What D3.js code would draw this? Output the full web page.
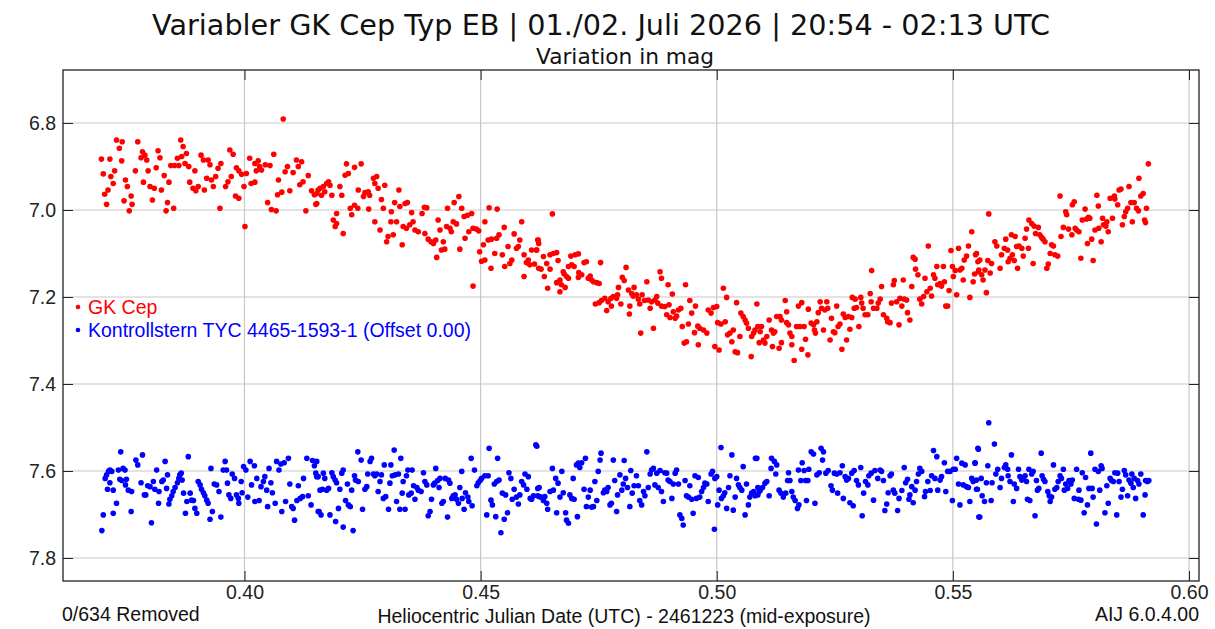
<!DOCTYPE html>
<html>
<head>
<meta charset="utf-8">
<script src="https://cdn.jsdelivr.net/npm/d3@7"></script>
<style>
  body { margin: 0; background: #fff; }
  svg { display: block; }
</style>
</head>
<body>
<script>
// Tick values as printed on the axes
const xTicks = [0.40, 0.45, 0.50, 0.55, 0.60];
const yTicks = [6.8, 7.0, 7.2, 7.4, 7.6, 7.8];

const titleText = 'Variabler GK Cep Typ EB | 01./02. Juli 2026 | 20:54 - 02:13 UTC';
const subtitleText = 'Variation in mag';
const xLabel = 'Heliocentric Julian Date (UTC) - 2461223 (mid-exposure)';
const removedText = '0/634 Removed';
const versionText = 'AIJ 6.0.4.00';
const seriesNames = ['GK Cep', 'Kontrollstern TYC 4465-1593-1 (Offset 0.00)'];

// GK Cep: [HJD - 2461223, mag]
const gkCep = [
[0.3697,6.883],[0.3715,6.883],[0.3701,6.917],[0.3717,6.923],[0.3722,6.939],[0.3711,6.954],[0.3704,6.964],[0.3708,6.987],
[0.3729,6.839],[0.3741,6.843],[0.3735,6.858],[0.3740,6.887],[0.3725,6.910],[0.3748,6.931],[0.3752,6.946],[0.3745,6.979],
[0.3760,6.968],[0.3762,6.987],[0.3756,7.002],[0.3774,6.843],[0.3784,6.866],[0.3789,6.874],[0.3781,6.880],[0.3793,6.885],
[0.3769,6.910],[0.3786,6.936],[0.3796,6.910],[0.3800,6.946],[0.3809,6.950],[0.3805,6.977],[0.3817,6.864],[0.3821,6.880],
[0.3813,6.903],[0.3824,6.954],[0.3830,6.921],[0.3840,6.936],[0.3837,6.983],[0.3834,7.002],[0.3850,6.996],[0.3865,6.839],
[0.3870,6.854],[0.3877,6.870],[0.3867,6.877],[0.3858,6.881],[0.3852,6.898],[0.3844,6.898],[0.3861,6.898],[0.3874,6.893],
[0.3882,6.900],[0.3895,6.910],[0.3884,6.936],[0.3891,6.950],[0.3897,6.956],[0.3902,6.946],[0.3915,6.954],[0.3908,6.874],
[0.3913,6.885],[0.3923,6.885],[0.3927,6.896],[0.3920,6.927],[0.3934,6.946],[0.3930,6.931],[0.3939,6.923],[0.3944,6.904],
[0.3950,6.893],[0.3948,6.996],[0.3960,6.946],[0.3965,6.935],[0.3972,6.923],[0.3969,6.862],[0.3976,6.872],[0.3983,6.903],
[0.3988,6.910],[0.3994,6.918],[0.4004,6.916],[0.3999,6.946],[0.3981,6.968],[0.3988,6.973],[0.4001,7.038],[0.4011,6.881],
[0.4022,6.893],[0.4029,6.887],[0.4032,6.900],[0.4025,6.910],[0.4036,6.908],[0.4044,6.896],[0.4054,6.898],[0.4062,6.872],
[0.4014,6.939],[0.4022,6.936],[0.4049,6.983],[0.4057,6.999],[0.4067,7.002],[0.4072,6.931],[0.4079,6.959],[0.4070,6.965],
[0.4086,6.912],[0.4091,6.900],[0.4096,6.956],[0.4103,6.914],[0.4110,6.885],[0.4114,6.900],[0.4121,6.889],[0.4124,6.935],
[0.4117,6.942],[0.4135,6.921],[0.4130,7.002],[0.4142,6.956],[0.4148,6.965],[0.4151,6.987],[0.4082,6.791],
[0.4153,6.962],[0.4156,6.954],[0.4160,6.950],[0.4167,6.946],[0.4174,6.939],[0.4178,6.935],[0.4181,6.943],[0.4170,6.958],
[0.4163,6.966],[0.4153,6.985],[0.4185,6.966],[0.4202,6.946],[0.4206,6.966],[0.4216,6.894],[0.4233,6.902],[0.4247,6.894],
[0.4213,6.920],[0.4220,6.916],[0.4188,7.023],[0.4195,7.031],[0.4192,7.038],[0.4195,7.008],[0.4209,7.054],[0.4224,6.996],
[0.4227,7.011],[0.4233,6.989],[0.4240,6.996],[0.4241,6.954],[0.4252,6.969],[0.4255,6.960],[0.4262,6.958],[0.4265,6.966],
[0.4273,6.927],[0.4280,6.923],[0.4276,6.939],[0.4283,6.950],[0.4297,6.943],[0.4263,6.998],[0.4276,7.027],[0.4287,7.046],
[0.4290,6.976],[0.4294,6.996],[0.4301,7.073],[0.4304,7.061],[0.4315,7.057],[0.4310,7.027],[0.4311,7.004],[0.4318,6.983],
[0.4327,6.954],[0.4322,7.027],[0.4329,6.992],[0.4334,7.080],[0.4340,6.985],[0.4345,6.983],[0.4336,7.038],[0.4343,7.042],
[0.4350,7.034],[0.4354,7.006],[0.4357,7.027],[0.4361,7.046],[0.4368,7.050],[0.4376,7.008],[0.4381,6.994],[0.4386,6.995],
[0.4382,7.054],[0.4389,7.067],[0.4395,7.073],[0.4400,7.077],[0.4405,7.069],[0.4407,7.109],[0.4410,7.023],[0.4414,7.046],
[0.4417,7.092],[0.4421,7.073],[0.4424,7.090],[0.4430,6.996],[0.4428,7.038],[0.4435,7.042],[0.4438,7.050],[0.4444,6.983],
[0.4442,7.027],[0.4449,7.032],[0.4454,6.969],[0.4460,6.996],[0.4456,7.090],[0.4467,7.065],[0.4465,7.015],[0.4472,7.012],
[0.4475,7.050],[0.4481,7.008],[0.4484,7.042],[0.4491,7.044],[0.4496,7.048],[0.4484,7.175],[0.4498,7.096],[0.4502,7.118],
[0.4506,7.080],[0.4509,7.115],[0.4509,7.027],[0.4518,6.995],[0.4522,7.134],[0.4516,7.069],[0.4523,7.067],[0.4530,7.100],
[0.4534,7.065],[0.4535,6.998],[0.4539,7.057],[0.4546,7.103],[0.4550,7.040],[0.4551,7.130],[0.4558,7.084],[0.4562,7.123],
[0.4566,7.115],[0.4571,7.055],[0.4576,7.088],[0.4580,7.084],[0.4583,7.069],[0.4587,7.027],[0.4592,7.153],[0.4592,7.103],
[0.4597,7.121],[0.4601,7.115],[0.4604,7.126],[0.4608,7.092],[0.4614,7.124],[0.4618,7.092],[0.4622,7.069],[0.4623,7.134],
[0.4652,7.009],[0.4621,7.069],[0.4623,7.077],[0.4619,7.092],[0.4633,7.107],[0.4647,7.103],[0.4654,7.100],[0.4661,7.098],
[0.4664,7.116],[0.4640,7.123],[0.4628,7.136],[0.4647,7.136],[0.4635,7.153],[0.4642,7.180],[0.4661,7.167],[0.4668,7.161],
[0.4671,7.172],[0.4668,7.188],[0.4679,7.178],[0.4677,7.147],[0.4682,7.153],[0.4686,7.157],[0.4675,7.142],[0.4686,7.130],
[0.4693,7.126],[0.4691,7.106],[0.4700,7.103],[0.4707,7.101],[0.4698,7.130],[0.4708,7.144],[0.4707,7.155],[0.4714,7.149],
[0.4719,7.121],[0.4724,7.119],[0.4728,7.157],[0.4732,7.152],[0.4735,7.161],[0.4739,7.165],[0.4746,7.167],[0.4751,7.169],
[0.4754,7.121],[0.4743,7.216],[0.4751,7.213],[0.4756,7.208],[0.4763,7.203],[0.4767,7.231],[0.4770,7.211],[0.4776,7.203],
[0.4781,7.199],[0.4777,7.221],[0.4788,7.203],[0.4790,7.195],[0.4792,7.178],[0.4797,7.216],[0.4800,7.155],[0.4804,7.162],
[0.4808,7.132],[0.4813,7.184],[0.4815,7.239],[0.4816,7.221],[0.4820,7.192],[0.4823,7.198],[0.4825,7.178],[0.4830,7.195],
[0.4834,7.205],[0.4837,7.216],[0.4839,7.283],[0.4842,7.195],[0.4847,7.208],[0.4852,7.165],[0.4855,7.207],[0.4859,7.226],
[0.4862,7.211],[0.4866,7.272],[0.4869,7.207],[0.4873,7.199],[0.4875,7.214],[0.4880,7.142],[0.4883,7.157],[0.4883,7.221],
[0.4890,7.222],[0.4894,7.241],[0.4897,7.172],[0.4899,7.218],[0.4901,7.247],[0.4906,7.193],[0.4908,7.234],[0.4912,7.249],
[0.4915,7.244],[0.4919,7.230],[0.4924,7.226],[0.4927,7.268],[0.4931,7.306],[0.4934,7.172],[0.4936,7.303],[0.4940,7.262],
[0.4943,7.208],[0.4947,7.237],[0.4953,7.282],[0.4955,7.221],[0.4960,7.267],[0.4961,7.310],[0.4964,7.272],[0.4972,7.276],
[0.4979,7.283],[0.4982,7.230],[0.4988,7.237],[0.4993,7.224],[0.4996,7.314],[0.5000,7.222],[0.5002,7.259],[0.5005,7.322],
[0.5009,7.262],[0.5014,7.180],[0.5018,7.257],[0.5021,7.201],[0.5023,7.287],[0.5028,7.283],[0.5032,7.303],[0.5035,7.276],
[0.5039,7.326],[0.5042,7.213],[0.5044,7.328],[0.5049,7.291],[0.5051,7.237],[0.5056,7.245],[0.5060,7.253],[0.5063,7.260],
[0.5067,7.272],[0.5073,7.337],[0.5074,7.291],[0.5078,7.283],[0.5081,7.276],[0.5085,7.216],[0.5087,7.268],[0.5090,7.305],
[0.5095,7.268],[0.5092,7.280],[0.5099,7.299],[0.5106,7.291],[0.5102,7.306],[0.5111,7.253],[0.5116,7.276],[0.5120,7.283],
[0.5118,7.314],[0.5123,7.280],[0.5127,7.245],[0.5132,7.318],[0.5134,7.245],[0.5137,7.253],[0.5137,7.305],[0.5145,7.208],
[0.5148,7.234],[0.5148,7.259],[0.5152,7.264],[0.5155,7.283],[0.5159,7.291],[0.5159,7.310],[0.5164,7.346],[0.5169,7.268],
[0.5173,7.221],[0.5176,7.268],[0.5180,7.213],[0.5180,7.320],[0.5185,7.268],[0.5188,7.297],[0.5193,7.333],[0.5194,7.228],
[0.5200,7.260],[0.5205,7.264],[0.5207,7.276],[0.5209,7.283],[0.5212,7.257],[0.5215,7.236],[0.5219,7.211],[0.5222,7.226],
[0.5226,7.276],[0.5229,7.230],[0.5233,7.211],[0.5235,7.226],[0.5240,7.299],[0.5243,7.249],[0.5247,7.280],[0.5250,7.282],
[0.5254,7.221],[0.5257,7.268],[0.5261,7.262],[0.5265,7.320],[0.5268,7.239],[0.5272,7.247],[0.5275,7.299],[0.5279,7.245],
[0.5282,7.274],[0.5286,7.247],[0.5287,7.201],[0.5291,7.226],[0.5293,7.205],[0.5296,7.224],[0.5301,7.268],[0.5305,7.201],
[0.5307,7.214],[0.5310,7.226],[0.5314,7.241],[0.5320,7.241],[0.5325,7.192],[0.5327,7.211],[0.5328,7.139],[0.5332,7.226],
[0.5339,7.226],[0.5342,7.214],[0.5346,7.205],[0.5349,7.176],[0.5353,7.241],[0.5360,7.249],[0.5362,7.257],[0.5367,7.259],
[0.5370,7.214],[0.5374,7.172],[0.5376,7.162],[0.5381,7.211],[0.5386,7.264],[0.5388,7.203],[0.5392,7.221],[0.5395,7.161],
[0.5397,7.205],[0.5402,7.207],[0.5404,7.236],[0.5409,7.253],[0.5413,7.176],[0.5416,7.109],[0.5420,7.113],[0.5421,7.136],
[0.5426,7.149],[0.5430,7.205],[0.5434,7.216],[0.5438,7.199],[0.5441,7.157],[0.5445,7.188],[0.5448,7.083],[0.5452,7.180],
[0.5455,7.198],[0.5459,7.149],[0.5462,7.157],[0.5466,7.130],[0.5468,7.172],[0.5473,7.169],[0.5476,7.175],[0.5480,7.130],
[0.5482,7.165],[0.5485,7.221],[0.5489,7.221],[0.5492,7.185],[0.5496,7.093],[0.5499,7.130],[0.5501,7.153],[0.5505,7.139],
[0.5508,7.195],[0.5512,7.088],[0.5515,7.138],[0.5519,7.134],[0.5522,7.161],[0.5524,7.115],[0.5529,7.106],[0.5533,7.083],
[0.5536,7.201],[0.5540,7.050],[0.5543,7.165],[0.5546,7.147],[0.5548,7.103],[0.5553,7.119],[0.5555,7.138],
[0.5550,7.100],[0.5557,7.115],[0.5554,7.142],[0.5561,7.149],[0.5564,7.161],[0.5568,7.138],[0.5571,7.190],[0.5574,7.116],
[0.5579,7.145],[0.5582,7.123],[0.5576,7.009],[0.5589,7.073],[0.5593,7.083],[0.5600,7.134],[0.5603,7.103],[0.5609,7.088],
[0.5612,7.067],[0.5616,7.092],[0.5617,7.119],[0.5621,7.111],[0.5624,7.057],[0.5626,7.103],[0.5630,7.116],[0.5632,7.061],
[0.5635,7.084],[0.5637,7.134],[0.5640,7.083],[0.5646,7.088],[0.5649,7.106],[0.5653,7.065],[0.5656,7.044],[0.5660,7.088],
[0.5661,7.023],[0.5667,7.031],[0.5670,7.123],[0.5672,7.037],[0.5675,7.054],[0.5681,7.040],[0.5684,7.057],[0.5688,7.063],
[0.5691,7.067],[0.5695,7.073],[0.5699,7.134],[0.5702,7.124],[0.5706,7.100],[0.5709,7.080],[0.5713,7.083],[0.5716,7.103],
[0.5722,7.106],[0.5727,6.968],[0.5729,7.061],[0.5734,7.040],[0.5739,7.004],[0.5741,7.011],[0.5745,7.044],[0.5752,7.057],
[0.5753,6.988],[0.5757,6.981],[0.5759,7.042],[0.5762,7.046],[0.5767,7.050],[0.5771,7.111],[0.5774,7.023],[0.5780,6.998],
[0.5783,7.021],[0.5787,7.017],[0.5790,7.019],[0.5785,7.077],[0.5794,7.067],[0.5797,7.116],[0.5801,7.046],[0.5805,6.966],
[0.5808,6.991],[0.5809,7.042],[0.5814,7.073],[0.5817,7.019],[0.5819,7.034],[0.5824,7.037],[0.5826,7.027],[0.5829,7.050],
[0.5833,6.973],[0.5838,7.019],[0.5842,6.968],[0.5843,6.975],[0.5849,6.988],[0.5852,6.954],[0.5856,6.952],[0.5859,7.034],
[0.5863,7.015],[0.5866,7.004],[0.5870,6.996],[0.5873,6.946],[0.5877,6.983],[0.5880,7.027],[0.5884,6.983],[0.5889,6.996],
[0.5893,7.002],[0.5894,6.927],[0.5898,6.968],[0.5903,6.962],[0.5906,7.023],[0.5908,7.029],[0.5910,6.996],[0.5914,6.894]
];

// Kontrollstern TYC 4465-1593-1: [HJD - 2461223, mag]
const checkStar = [
[0.3698,7.737],[0.3701,7.701],[0.3705,7.617],[0.3708,7.609],[0.3712,7.601],[0.3715,7.598],[0.3719,7.601],[0.3710,7.642],
[0.3715,7.627],[0.3722,7.644],[0.3722,7.697],[0.3729,7.674],[0.3733,7.598],[0.3738,7.556],[0.3743,7.594],[0.3747,7.598],
[0.3736,7.619],[0.3740,7.622],[0.3750,7.619],[0.3748,7.632],[0.3754,7.644],[0.3760,7.693],[0.3761,7.647],[0.3770,7.575],
[0.3774,7.586],[0.3784,7.563],[0.3781,7.627],[0.3788,7.655],[0.3791,7.655],[0.3795,7.634],[0.3800,7.636],[0.3807,7.624],
[0.3803,7.719],[0.3810,7.642],[0.3814,7.598],[0.3818,7.674],[0.3819,7.647],[0.3825,7.624],[0.3828,7.621],[0.3832,7.578],
[0.3835,7.640],[0.3837,7.609],[0.3840,7.676],[0.3842,7.665],[0.3846,7.657],[0.3849,7.647],[0.3853,7.638],[0.3858,7.627],
[0.3861,7.617],[0.3863,7.609],[0.3866,7.605],[0.3868,7.621],[0.3871,7.651],[0.3875,7.697],[0.3878,7.670],[0.3881,7.567],
[0.3885,7.651],[0.3888,7.667],[0.3892,7.668],[0.3895,7.686],[0.3899,7.697],[0.3902,7.624],[0.3906,7.632],[0.3909,7.642],
[0.3913,7.650],[0.3916,7.657],[0.3920,7.667],[0.3923,7.674],[0.3927,7.711],[0.3929,7.594],[0.3932,7.693],[0.3936,7.630],
[0.3941,7.632],[0.3946,7.647],[0.3950,7.706],[0.3955,7.598],[0.3959,7.578],[0.3962,7.598],[0.3964,7.628],[0.3967,7.655],
[0.3971,7.663],[0.3974,7.607],[0.3979,7.617],[0.3983,7.655],[0.3987,7.663],[0.3988,7.674],[0.3993,7.624],[0.3995,7.650],
[0.3998,7.590],[0.4003,7.598],[0.4007,7.660],[0.4012,7.578],[0.4015,7.632],[0.4021,7.588],[0.4022,7.670],[0.4026,7.617],
[0.4031,7.668],[0.4035,7.636],[0.4040,7.624],[0.4043,7.613],[0.4047,7.644],[0.4049,7.682],[0.4052,7.594],[0.4056,7.627],
[0.4059,7.650],[0.4065,7.674],[0.4068,7.578],[0.4073,7.598],[0.4077,7.584],[0.4079,7.693],[0.4084,7.581],[0.4087,7.670],
[0.4093,7.571],[0.4096,7.630],[0.4100,7.682],[0.4103,7.686],[0.4106,7.713],[0.4111,7.668],[0.4114,7.634],[0.4118,7.663],
[0.4123,7.659],[0.4125,7.617],[0.4132,7.571],[0.4135,7.657],[0.4141,7.678],[0.4144,7.576],[0.4148,7.588],[0.4151,7.605],
[0.4153,7.613],[0.4156,7.693],[0.4160,7.644],
[0.4153,7.578],[0.4156,7.613],[0.4158,7.693],[0.4162,7.701],[0.4167,7.605],[0.4170,7.617],[0.4165,7.642],[0.4174,7.644],
[0.4178,7.640],[0.4181,7.701],[0.4185,7.604],[0.4188,7.613],[0.4192,7.621],[0.4193,7.716],[0.4195,7.627],[0.4199,7.686],
[0.4202,7.642],[0.4206,7.605],[0.4209,7.598],[0.4209,7.729],[0.4214,7.668],[0.4218,7.630],[0.4220,7.678],[0.4224,7.682],
[0.4227,7.644],[0.4230,7.737],[0.4233,7.611],[0.4235,7.621],[0.4240,7.556],[0.4241,7.624],[0.4247,7.575],[0.4250,7.688],
[0.4255,7.642],[0.4259,7.636],[0.4261,7.607],[0.4266,7.578],[0.4269,7.571],[0.4273,7.607],[0.4276,7.611],[0.4280,7.607],
[0.4283,7.647],[0.4287,7.624],[0.4290,7.609],[0.4294,7.663],[0.4296,7.586],[0.4299,7.659],[0.4305,7.688],[0.4308,7.628],
[0.4310,7.586],[0.4313,7.611],[0.4317,7.552],[0.4319,7.609],[0.4322,7.670],[0.4326,7.607],[0.4329,7.688],[0.4331,7.571],
[0.4334,7.651],[0.4336,7.624],[0.4340,7.688],[0.4343,7.611],[0.4346,7.598],[0.4348,7.655],[0.4353,7.651],[0.4355,7.598],
[0.4358,7.634],[0.4361,7.665],[0.4365,7.638],[0.4368,7.644],[0.4374,7.647],[0.4379,7.604],[0.4382,7.624],[0.4386,7.632],
[0.4389,7.703],[0.4393,7.693],[0.4396,7.665],[0.4400,7.632],[0.4403,7.628],[0.4405,7.594],[0.4409,7.622],[0.4412,7.638],
[0.4414,7.617],[0.4418,7.674],[0.4421,7.670],[0.4425,7.617],[0.4430,7.706],[0.4432,7.621],[0.4435,7.628],[0.4439,7.663],
[0.4442,7.657],[0.4446,7.655],[0.4449,7.665],[0.4453,7.674],[0.4456,7.638],[0.4460,7.601],[0.4461,7.663],[0.4465,7.688],
[0.4468,7.650],[0.4473,7.660],[0.4475,7.670],[0.4480,7.571],[0.4482,7.680],[0.4487,7.598],[0.4492,7.634],[0.4495,7.627],
[0.4499,7.622],[0.4502,7.617],[0.4509,7.611],[0.4513,7.701],[0.4516,7.611],[0.4518,7.548],[0.4522,7.667],[0.4525,7.678],
[0.4529,7.630],[0.4532,7.705],[0.4534,7.624],[0.4536,7.571],[0.4539,7.621],[0.4543,7.742],[0.4546,7.651],[0.4550,7.711],
[0.4553,7.655],[0.4557,7.696],[0.4560,7.604],[0.4564,7.617],[0.4567,7.665],[0.4571,7.642],[0.4576,7.660],[0.4580,7.676],
[0.4583,7.655],[0.4587,7.624],[0.4591,7.632],[0.4594,7.607],[0.4598,7.642],[0.4601,7.613],[0.4605,7.663],[0.4608,7.665],
[0.4612,7.657],[0.4617,7.540],[0.4621,7.640],[0.4624,7.659],
[0.4619,7.543],[0.4624,7.638],[0.4621,7.657],[0.4628,7.660],[0.4633,7.668],[0.4636,7.659],[0.4640,7.674],[0.4642,7.688],
[0.4647,7.647],[0.4652,7.594],[0.4654,7.644],[0.4659,7.617],[0.4661,7.696],[0.4664,7.628],[0.4668,7.660],[0.4672,7.601],
[0.4675,7.650],[0.4680,7.696],[0.4682,7.713],[0.4686,7.720],[0.4689,7.655],[0.4693,7.663],[0.4696,7.617],[0.4698,7.665],
[0.4703,7.586],[0.4705,7.705],[0.4707,7.582],[0.4710,7.592],[0.4714,7.581],[0.4719,7.642],[0.4722,7.571],[0.4724,7.682],
[0.4728,7.660],[0.4732,7.644],[0.4735,7.683],[0.4739,7.682],[0.4742,7.624],[0.4746,7.668],[0.4749,7.601],[0.4753,7.575],
[0.4755,7.559],[0.4760,7.650],[0.4763,7.644],[0.4767,7.647],[0.4770,7.638],[0.4774,7.678],[0.4777,7.674],[0.4781,7.575],
[0.4784,7.622],[0.4788,7.693],[0.4790,7.655],[0.4795,7.609],[0.4799,7.644],[0.4802,7.630],[0.4804,7.576],[0.4807,7.617],
[0.4811,7.638],[0.4816,7.682],[0.4818,7.599],[0.4821,7.651],[0.4825,7.634],[0.4830,7.611],[0.4834,7.634],[0.4837,7.668],
[0.4841,7.678],[0.4845,7.647],[0.4848,7.657],[0.4852,7.556],[0.4855,7.638],[0.4859,7.607],[0.4862,7.598],[0.4866,7.594],
[0.4869,7.632],[0.4873,7.605],[0.4876,7.638],[0.4880,7.599],[0.4883,7.647],[0.4887,7.670],[0.4890,7.604],[0.4894,7.605],
[0.4897,7.621],[0.4901,7.624],[0.4905,7.663],[0.4908,7.630],[0.4912,7.605],[0.4915,7.598],[0.4919,7.630],[0.4922,7.701],
[0.4926,7.709],[0.4929,7.724],[0.4933,7.622],[0.4936,7.657],[0.4940,7.660],[0.4943,7.634],[0.4947,7.665],[0.4950,7.697],
[0.4954,7.611],[0.4957,7.663],[0.4961,7.615],[0.4964,7.660],[0.4968,7.647],[0.4972,7.638],[0.4975,7.628],[0.4979,7.630],
[0.4982,7.670],[0.4988,7.607],[0.4991,7.601],[0.4995,7.734],[0.4996,7.617],[0.5000,7.613],[0.5002,7.678],[0.5005,7.644],
[0.5009,7.546],[0.5010,7.663],[0.5014,7.657],[0.5017,7.650],[0.5021,7.686],[0.5025,7.638],[0.5028,7.611],[0.5032,7.563],
[0.5035,7.690],[0.5039,7.660],[0.5042,7.617],[0.5046,7.632],[0.5049,7.638],[0.5053,7.644],[0.5056,7.590],[0.5060,7.701],
[0.5063,7.630],[0.5067,7.678],[0.5070,7.660],[0.5074,7.651],[0.5078,7.647],[0.5081,7.657],[0.5082,7.571],[0.5087,7.638],
[0.5090,7.647],
[0.5085,7.571],[0.5087,7.655],[0.5092,7.645],[0.5097,7.638],[0.5102,7.628],[0.5106,7.624],[0.5111,7.657],[0.5115,7.594],
[0.5116,7.571],[0.5122,7.578],[0.5127,7.586],[0.5125,7.607],[0.5132,7.644],[0.5136,7.651],[0.5141,7.660],[0.5146,7.651],
[0.5152,7.604],[0.5150,7.622],[0.5155,7.622],[0.5159,7.647],[0.5162,7.660],[0.5166,7.668],[0.5171,7.686],[0.5174,7.678],
[0.5173,7.598],[0.5178,7.622],[0.5181,7.581],[0.5185,7.599],[0.5188,7.622],[0.5193,7.622],[0.5190,7.668],[0.5195,7.596],
[0.5200,7.556],[0.5205,7.561],[0.5208,7.674],[0.5212,7.609],[0.5217,7.604],[0.5221,7.548],[0.5224,7.575],[0.5226,7.556],
[0.5231,7.605],[0.5236,7.599],[0.5242,7.634],[0.5245,7.644],[0.5249,7.605],[0.5254,7.607],[0.5256,7.651],[0.5261,7.604],
[0.5266,7.588],[0.5268,7.663],[0.5272,7.613],[0.5275,7.621],[0.5279,7.617],[0.5282,7.673],[0.5286,7.605],[0.5289,7.680],
[0.5291,7.599],[0.5296,7.622],[0.5300,7.632],[0.5305,7.592],[0.5308,7.703],[0.5311,7.651],[0.5315,7.624],[0.5320,7.632],
[0.5322,7.611],[0.5327,7.605],[0.5332,7.667],[0.5335,7.599],[0.5341,7.617],[0.5346,7.598],[0.5349,7.601],[0.5353,7.622],
[0.5356,7.691],[0.5360,7.676],[0.5363,7.650],[0.5367,7.611],[0.5370,7.607],[0.5374,7.644],[0.5377,7.651],[0.5383,7.691],
[0.5386,7.663],[0.5392,7.645],[0.5397,7.592],[0.5400,7.627],[0.5404,7.619],[0.5407,7.665],[0.5409,7.655],[0.5413,7.636],
[0.5416,7.673],[0.5420,7.644],[0.5423,7.624],[0.5427,7.607],[0.5430,7.594],[0.5434,7.601],[0.5440,7.659],[0.5442,7.647],
[0.5447,7.624],[0.5452,7.645],[0.5455,7.611],[0.5459,7.553],[0.5462,7.617],[0.5466,7.567],[0.5468,7.644],[0.5473,7.621],
[0.5476,7.613],[0.5482,7.581],[0.5485,7.647],[0.5489,7.601],[0.5494,7.601],[0.5499,7.668],[0.5501,7.596],[0.5505,7.596],
[0.5508,7.571],[0.5512,7.630],[0.5515,7.678],[0.5519,7.582],[0.5522,7.632],[0.5526,7.586],[0.5529,7.636],[0.5533,7.638],
[0.5536,7.670],[0.5540,7.617],[0.5543,7.624],[0.5547,7.581],[0.5550,7.642],[0.5553,7.548],[0.5555,7.706],
[0.5547,7.582],[0.5554,7.550],[0.5550,7.621],[0.5552,7.642],[0.5557,7.706],[0.5560,7.617],[0.5562,7.657],[0.5567,7.670],
[0.5571,7.627],[0.5574,7.588],[0.5576,7.489],[0.5581,7.668],[0.5583,7.627],[0.5588,7.538],[0.5591,7.607],[0.5595,7.596],
[0.5600,7.638],[0.5603,7.617],[0.5609,7.592],[0.5612,7.586],[0.5616,7.596],[0.5617,7.611],[0.5621,7.624],[0.5624,7.563],
[0.5628,7.670],[0.5630,7.630],[0.5635,7.640],[0.5639,7.596],[0.5642,7.613],[0.5646,7.621],[0.5649,7.617],[0.5653,7.611],
[0.5656,7.624],[0.5658,7.665],[0.5661,7.596],[0.5663,7.668],[0.5667,7.607],[0.5670,7.601],[0.5674,7.703],[0.5677,7.622],
[0.5679,7.644],[0.5682,7.640],[0.5687,7.559],[0.5689,7.611],[0.5692,7.619],[0.5695,7.624],[0.5701,7.647],[0.5704,7.657],
[0.5706,7.670],[0.5709,7.660],[0.5713,7.586],[0.5716,7.642],[0.5720,7.638],[0.5723,7.624],[0.5727,7.611],[0.5730,7.617],
[0.5734,7.596],[0.5736,7.644],[0.5739,7.630],[0.5743,7.640],[0.5746,7.622],[0.5750,7.630],[0.5753,7.621],[0.5757,7.663],
[0.5762,7.596],[0.5766,7.665],[0.5767,7.644],[0.5771,7.667],[0.5774,7.604],[0.5778,7.696],[0.5781,7.615],[0.5785,7.678],
[0.5788,7.640],[0.5792,7.559],[0.5795,7.640],[0.5797,7.660],[0.5801,7.596],[0.5804,7.722],[0.5808,7.601],[0.5811,7.644],
[0.5814,7.588],[0.5816,7.594],[0.5822,7.696],[0.5826,7.634],[0.5829,7.674],[0.5833,7.617],[0.5836,7.622],[0.5840,7.624],
[0.5843,7.604],[0.5847,7.701],[0.5849,7.605],[0.5852,7.624],[0.5856,7.660],[0.5859,7.642],[0.5863,7.599],[0.5866,7.609],
[0.5870,7.657],[0.5873,7.621],[0.5877,7.628],[0.5879,7.607],[0.5882,7.638],[0.5884,7.617],[0.5887,7.663],[0.5891,7.622],
[0.5894,7.630],[0.5898,7.607],[0.5903,7.701],[0.5907,7.655],[0.5908,7.622],[0.5912,7.624],[0.5915,7.622]
];

const width = 1215, height = 629;
const plot = { left: 63, right: 1199, top: 70, bottom: 581 };
const tickFont = '"Liberation Sans", Arial, sans-serif';
const titleFont = '"DejaVu Sans", sans-serif';
const labelSize = '19.5px';

const svg = d3.select('body').append('svg')
    .attr('width', width)
    .attr('height', height);

const x = d3.scaleLinear()
    .domain([0.36157, 0.60212])
    .range([plot.left, plot.right]);

const y = d3.scaleLinear()
    .domain([6.6782, 7.8529])
    .range([plot.top, plot.bottom]);

// grid
svg.append('g').selectAll('line')
    .data(xTicks)
    .enter().append('line')
    .attr('x1', d => x(d)).attr('x2', d => x(d))
    .attr('y1', plot.top).attr('y2', plot.bottom)
    .attr('stroke', '#c8c8c8').attr('stroke-width', 1.2);

svg.append('g').selectAll('line')
    .data(yTicks)
    .enter().append('line')
    .attr('x1', plot.left).attr('x2', plot.right)
    .attr('y1', d => y(d)).attr('y2', d => y(d))
    .attr('stroke', '#c8c8c8').attr('stroke-width', 1.2);

// axes, ticks pointing inward
const styleAxis = g => {
    g.select('.domain').remove();
    g.selectAll('.tick line').attr('stroke', '#222');
    g.selectAll('.tick text')
        .attr('fill', '#222')
        .style('font-family', tickFont)
        .style('font-size', labelSize);
};

svg.append('g')
    .attr('transform', `translate(0,${plot.bottom})`)
    .call(d3.axisBottom(x).tickValues(xTicks).tickFormat(d3.format('.2f'))
        .tickSizeInner(-10).tickSizeOuter(0).tickPadding(4))
    .call(styleAxis);

svg.append('g')
    .attr('transform', `translate(${plot.left},0)`)
    .call(d3.axisLeft(y).tickValues(yTicks).tickFormat(d3.format('.1f'))
        .tickSizeInner(-10).tickSizeOuter(0).tickPadding(7))
    .call(styleAxis);

svg.append('g')
    .attr('transform', `translate(0,${plot.top})`)
    .call(d3.axisTop(x).tickValues(xTicks).tickFormat('')
        .tickSizeInner(-10).tickSizeOuter(0))
    .call(styleAxis);

svg.append('g')
    .attr('transform', `translate(${plot.right},0)`)
    .call(d3.axisRight(y).tickValues(yTicks).tickFormat('')
        .tickSizeInner(-10).tickSizeOuter(0))
    .call(styleAxis);

// frame
svg.append('rect')
    .attr('x', plot.left).attr('y', plot.top)
    .attr('width', plot.right - plot.left)
    .attr('height', plot.bottom - plot.top)
    .attr('fill', 'none')
    .attr('stroke', '#222')
    .attr('stroke-width', 1.3);

// data points
const series = [
    { name: seriesNames[0], values: gkCep, color: '#ff0000' },
    { name: seriesNames[1], values: checkStar, color: '#0000ff' }
];

series.forEach(s => {
    svg.append('g').selectAll('circle')
        .data(s.values)
        .enter().append('circle')
        .attr('cx', d => x(d[0]))
        .attr('cy', d => y(d[1]))
        .attr('r', 2.8)
        .attr('fill', s.color);
});

// legend
const legend = svg.append('g');
series.forEach((s, i) => {
    const ly = 307 + i * 23;
    legend.append('circle')
        .attr('cx', 78).attr('cy', ly).attr('r', 2.3)
        .attr('fill', s.color);
    legend.append('text')
        .attr('x', 88).attr('y', ly + 7)
        .attr('fill', s.color)
        .style('font-family', tickFont)
        .style('font-size', labelSize)
        .text(s.name);
});

// titles
const fitText = (sel, targetWidth) => {
    const w = sel.node().getComputedTextLength();
    const fs = parseFloat(sel.style('font-size'));
    sel.style('font-size', (fs * targetWidth / w) + 'px');
};

const title = svg.append('text')
    .attr('x', 601).attr('y', 35)
    .attr('text-anchor', 'middle')
    .attr('fill', '#111')
    .style('font-family', titleFont)
    .style('font-size', '26px')
    .text(titleText);
fitText(title, 898);

const subtitle = svg.append('text')
    .attr('x', 625).attr('y', 64)
    .attr('text-anchor', 'middle')
    .attr('fill', '#111')
    .style('font-family', titleFont)
    .style('font-size', '18px')
    .text(subtitleText);
fitText(subtitle, 178);

// bottom texts
svg.append('text')
    .attr('x', 62).attr('y', 621)
    .attr('fill', '#111')
    .style('font-family', tickFont).style('font-size', labelSize)
    .text(removedText);

svg.append('text')
    .attr('x', 624).attr('y', 623)
    .attr('text-anchor', 'middle')
    .attr('fill', '#111')
    .style('font-family', tickFont).style('font-size', labelSize)
    .text(xLabel);

svg.append('text')
    .attr('x', 1199).attr('y', 621)
    .attr('text-anchor', 'end')
    .attr('fill', '#111')
    .style('font-family', tickFont).style('font-size', labelSize)
    .text(versionText);
</script>
</body>
</html>
